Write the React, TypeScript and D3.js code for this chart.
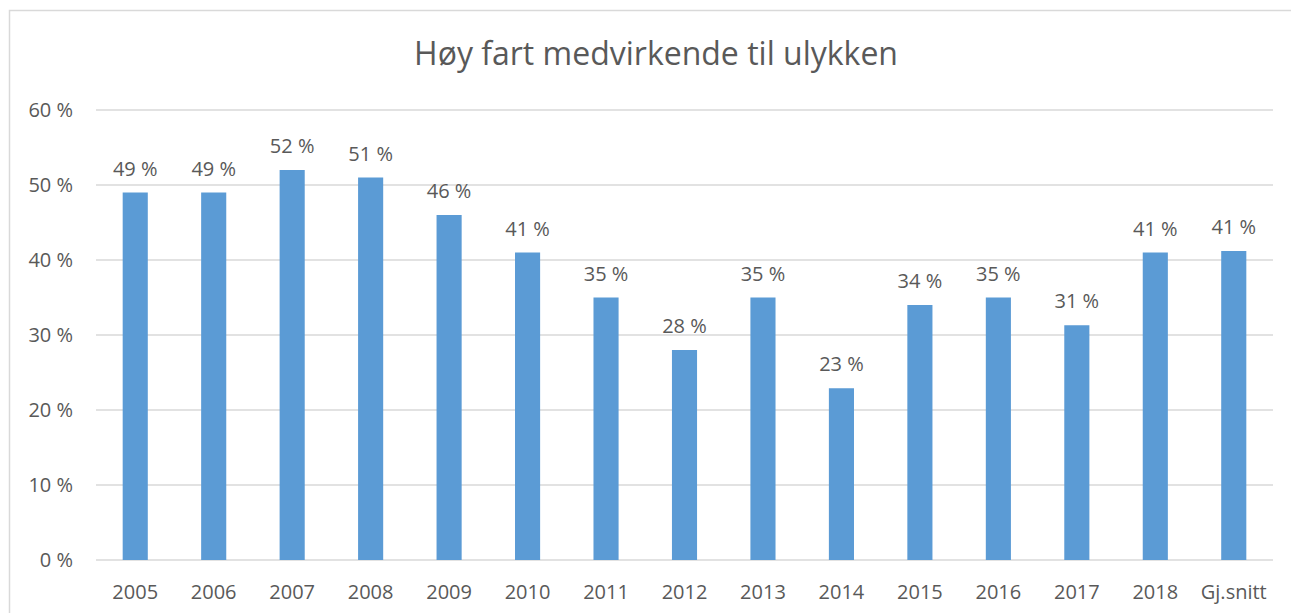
import React from "react";
import * as d3 from "d3";

const categories = ["2005","2006","2007","2008","2009","2010","2011","2012","2013","2014","2015","2016","2017","2018","Gj.snitt"];
const values = [49, 49, 52, 51, 46, 41, 35, 28, 35, 22.9, 34, 35, 31.3, 41, 41.2];
const yTicks = [0, 10, 20, 30, 40, 50, 60];
const title = "Høy fart medvirkende til ulykken";

const W = 1291, H = 613;
const left = 96, right = 1273, top = 110, bottom = 560;
const FONT = "'Open Sans', sans-serif";
const TXT = "#595959";

export default function App() {
  const x = d3.scaleBand<string>().domain(categories).range([left, right]).paddingInner(0.68).paddingOuter(0.34);
  const y = d3.scaleLinear().domain([0, 60]).range([bottom, top]);
  const fmt = (v: number) => `${Math.round(v)}\u00a0%`;
  return (
    <svg width={W} height={H} style={{ position: "absolute", left: 0, top: 0, background: "#fff" }} fontFamily={FONT}>
      <rect x={9.5} y={10.5} width={1400} height={800} fill="#fff" stroke="#D9D9D9" strokeWidth={1.5} />
      <text x={656} y={65} textAnchor="middle" fontSize={32} fill={TXT}>{title}</text>
      {yTicks.map(t => (
        <g key={t}>
          <line x1={left} x2={right} y1={y(t)} y2={y(t)} stroke="#D9D9D9" strokeWidth={1.5} />
          <text x={73} y={y(t)} dy="0.35em" textAnchor="end" fontSize={20} fill={TXT}>{`${t}\u00a0%`}</text>
        </g>
      ))}
      {categories.map((c, i) => {
        const bx = x(c)!;
        const bw = x.bandwidth();
        return (
          <g key={c}>
            <rect x={bx} y={y(values[i])} width={bw} height={y(0) - y(values[i])} fill="#5B9BD5" />
            <text x={bx + bw / 2} y={y(values[i]) - 17} textAnchor="middle" fontSize={20} fill={TXT}>{fmt(values[i])}</text>
            <text x={bx + bw / 2} y={599} textAnchor="middle" fontSize={20} fill={TXT}>{c}</text>
          </g>
        );
      })}
    </svg>
  );
}
